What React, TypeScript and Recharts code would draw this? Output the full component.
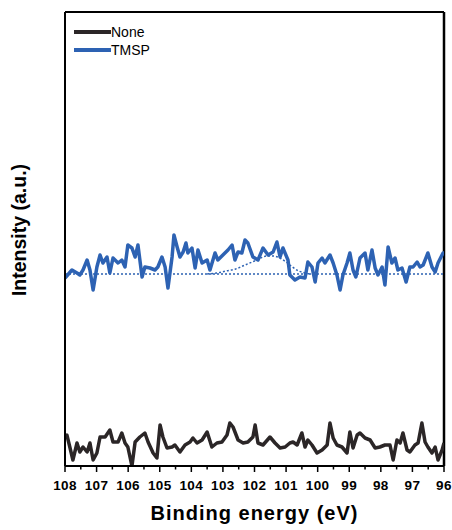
import { LineChart, Line, XAxis, YAxis, ReferenceLine, Legend } from 'recharts'

// binding energy (eV) and intensity (a.u.)
const TMSP_EV = [
  108.0, 107.78, 107.62, 107.53, 107.43, 107.3, 107.21, 107.11, 106.99, 106.89,
  106.8, 106.67, 106.58, 106.48, 106.32, 106.2, 106.1, 106.01, 105.88, 105.78,
  105.69, 105.56, 105.47, 105.31, 105.15, 105.06, 104.93, 104.83, 104.74, 104.61,
  104.55, 104.45, 104.36, 104.26, 104.17, 104.11, 103.98, 103.88, 103.79, 103.66,
  103.5, 103.41, 103.25, 103.16, 103.0, 102.84, 102.71, 102.62, 102.52, 102.4,
  102.3, 102.21, 102.05, 101.89, 101.73, 101.57, 101.41, 101.29, 101.19, 101.1,
  100.94, 100.88, 100.72, 100.56, 100.4, 100.31, 100.18, 100.08, 99.99, 99.86,
  99.77, 99.61, 99.51, 99.39, 99.29, 99.2, 99.07, 98.98, 98.88, 98.79,
  98.66, 98.5, 98.41, 98.28, 98.18, 98.09, 97.96, 97.87, 97.77, 97.65,
  97.55, 97.46, 97.33, 97.2, 97.08, 96.98, 96.85, 96.76, 96.66, 96.51,
  96.38, 96.28, 96.19, 96.03, 96.0,
]
const TMSP_I = [
  188, 196, 193, 191, 196, 206, 196, 176, 199, 211,
  203, 209, 193, 208, 203, 206, 199, 221, 218, 209,
  221, 189, 199, 198, 196, 199, 209, 199, 178, 209,
  231, 219, 209, 214, 223, 213, 218, 198, 216, 203,
  206, 196, 213, 206, 211, 216, 221, 206, 214, 213,
  226, 223, 209, 206, 218, 211, 214, 224, 209, 218,
  206, 191, 186, 189, 188, 204, 199, 184, 203, 208,
  203, 211, 203, 191, 176, 191, 203, 213, 196, 189,
  208, 213, 196, 216, 198, 191, 199, 181, 219, 203,
  208, 196, 198, 184, 199, 199, 204, 199, 201, 213,
  199, 194, 203, 213, 213,
]

const NONE_EV = [
  108.0, 107.94, 107.84, 107.75, 107.62, 107.53, 107.43, 107.3, 107.21, 107.11,
  106.99, 106.89, 106.73, 106.58, 106.48, 106.32, 106.2, 106.1, 106.01, 105.88,
  105.78, 105.63, 105.47, 105.37, 105.21, 105.09, 104.99, 104.9, 104.77, 104.61,
  104.52, 104.36, 104.2, 104.04, 103.95, 103.82, 103.66, 103.5, 103.35, 103.19,
  103.03, 102.87, 102.78, 102.68, 102.52, 102.36, 102.21, 102.05, 101.98, 101.89,
  101.73, 101.51, 101.35, 101.19, 101.03, 100.88, 100.78, 100.65, 100.5, 100.4,
  100.31, 100.18, 100.02, 99.86, 99.7, 99.61, 99.51, 99.39, 99.23, 99.07,
  98.98, 98.88, 98.75, 98.66, 98.5, 98.34, 98.18, 98.03, 97.87, 97.71,
  97.61, 97.49, 97.39, 97.3, 97.17, 97.08, 96.92, 96.82, 96.7, 96.6,
  96.51, 96.38, 96.28, 96.19, 96.06, 96.0,
]
const NONE_I = [
  29, 31, 18, 6, 23, 14, 19, 14, 23, 6,
  13, 29, 29, 36, 24, 24, 33, 23, 19, 0,
  24, 29, 33, 24, 13, 8, 41, 29, 18, 19,
  21, 14, 21, 24, 28, 23, 26, 34, 19, 23,
  24, 31, 43, 39, 26, 23, 24, 29, 41, 23,
  21, 29, 23, 18, 19, 23, 24, 21, 33, 19,
  26, 21, 13, 16, 21, 43, 28, 21, 19, 13,
  34, 18, 31, 33, 28, 26, 18, 19, 21, 21,
  6, 26, 23, 33, 16, 14, 21, 23, 43, 24,
  19, 13, 19, 6, 16, 23,
]

// fitted Si 2p component (dotted) and its background
const FIT_EV = [103.5, 103.2, 102.9, 102.6, 102.3, 102.0, 101.8, 101.6, 101.4, 101.2, 101.0, 100.8, 100.6, 100.4, 100.2]
const FIT_I = [192, 193, 195, 197, 201, 205, 208, 210, 210, 208, 204, 199, 195, 193, 192]
const BASE_EV = [108, 96]
const BASE_I = [192, 192]

const X_TICKS = [
  108, 107.5, 107, 106.5, 106, 105.5, 105, 104.5, 104, 103.5, 103, 102.5, 102,
  101.5, 101, 100.5, 100, 99.5, 99, 98.5, 98, 97.5, 97, 96.5, 96,
]

const FONT = '"Liberation Sans", Arial, Helvetica, sans-serif'
const BLUE = '#2d62b3'
const BLACK = '#2b2627'

const zip = (ev: number[], ys: number[]) => ev.map((e, i) => ({ e, y: ys[i] }))

const tmspData = zip(TMSP_EV, TMSP_I)
const noneData = zip(NONE_EV, NONE_I)
const fitData = zip(FIT_EV, FIT_I)
const baseData = zip(BASE_EV, BASE_I)

function EnergyTick({ x, y, payload }: any) {
  const major = Number.isInteger(payload.value)
  return (
    <g>
      <line x1={x} x2={x} y1={y} y2={y + (major ? 6 : 3.5)} stroke="#000" strokeWidth={1.5} />
      {major && (
        <text
          x={x}
          y={y + 24}
          textAnchor="middle"
          fontSize={13.5}
          letterSpacing={0.4}
          fontWeight="bold"
          fontFamily={FONT}
          fill="#000"
        >
          {payload.value}
        </text>
      )}
    </g>
  )
}

function LegendBox() {
  const rows = [
    { name: 'None', color: BLACK },
    { name: 'TMSP', color: BLUE },
  ]
  return (
    <div style={{ fontFamily: FONT, fontSize: 14, color: '#000' }}>
      {rows.map((r) => (
        <div key={r.name} style={{ display: 'flex', alignItems: 'center', height: 18 }}>
          <span style={{ display: 'inline-block', width: 37, height: 4, background: r.color }} />
          <span style={{ lineHeight: 1 }}>{r.name}</span>
        </div>
      ))}
    </div>
  )
}

export default function App() {
  return (
    <div style={{ position: 'absolute', left: 0, top: 0 }}>
      <LineChart width={452} height={530} margin={{ top: 12, right: 8, bottom: 0, left: 0 }}>
        <XAxis
          type="number"
          dataKey="e"
          domain={[96, 108]}
          reversed
          allowDataOverflow
          ticks={X_TICKS}
          interval={0}
          tickLine={false}
          tickSize={0}
          tickMargin={0}
          tick={<EnergyTick />}
          height={64}
          axisLine={{ stroke: '#000', strokeWidth: 2 }}
          label={{
            content: ({ viewBox }: any) => (
              <text
                x={viewBox.x + viewBox.width / 2}
                y={viewBox.y + 54}
                textAnchor="middle"
                fontSize={20}
                letterSpacing={1}
                fontWeight="bold"
                fontFamily={FONT}
                fill="#000"
              >
                Binding energy (eV)
              </text>
            ),
          }}
        />
        <YAxis
          type="number"
          domain={[0, 454]}
          allowDataOverflow
          width={65}
          tick={false}
          tickLine={false}
          axisLine={{ stroke: '#000', strokeWidth: 2 }}
          label={{
            content: ({ viewBox }: any) => {
              const cx = viewBox.x + 26
              const cy = viewBox.y + viewBox.height / 2 - 9
              return (
                <text
                  x={cx}
                  y={cy}
                  transform={`rotate(-90 ${cx} ${cy})`}
                  textAnchor="middle"
                  fontSize={19.5}
                  fontWeight="bold"
                  fontFamily={FONT}
                  fill="#000"
                >
                  Intensity (a.u.)
                </text>
              )
            },
          }}
        />
        <ReferenceLine y={454} stroke="#000" strokeWidth={2} />
        <ReferenceLine x={96} stroke="#000" strokeWidth={2.5} />
        <Legend
          layout="vertical"
          verticalAlign="middle"
          align="center"
          wrapperStyle={{ left: 74, top: 23, width: 'auto', height: 'auto' }}
          content={() => <LegendBox />}
        />
        <Line data={baseData} dataKey="y" stroke={BLUE} strokeWidth={1.5} strokeDasharray="2 2" dot={false} isAnimationActive={false} legendType="none" />
        <Line data={fitData} dataKey="y" type="monotone" stroke={BLUE} strokeWidth={1.5} strokeDasharray="2 2" dot={false} isAnimationActive={false} legendType="none" />
        <Line data={noneData} dataKey="y" name="None" stroke={BLACK} strokeWidth={3.5} strokeLinejoin="round" dot={false} isAnimationActive={false} />
        <Line data={tmspData} dataKey="y" name="TMSP" stroke={BLUE} strokeWidth={3.5} strokeLinejoin="round" dot={false} isAnimationActive={false} />
      </LineChart>
    </div>
  )
}
